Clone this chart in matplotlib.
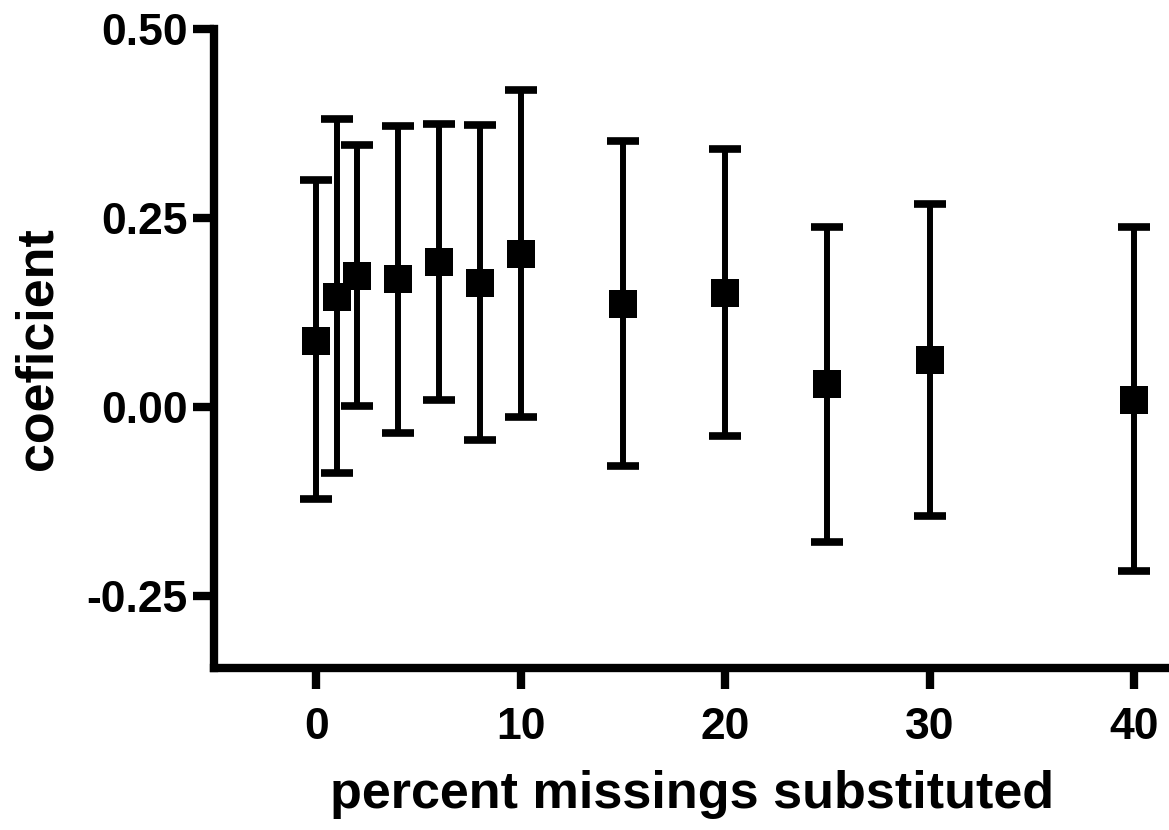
import numpy as np
import matplotlib
matplotlib.use('Agg')
import matplotlib.pyplot as plt

# percent of missings substituted vs coefficient (mean with CI)
percent = [0, 1, 2, 4, 6, 8, 10, 15, 20, 25, 30, 40]
coef = [0.088, 0.146, 0.173, 0.169, 0.192, 0.164, 0.202, 0.137, 0.151, 0.030, 0.062, 0.010]
lower = [-0.122, -0.087, 0.001, -0.034, 0.009, -0.044, -0.013, -0.078, -0.038, -0.178, -0.144, -0.217]
upper = [0.300, 0.381, 0.346, 0.372, 0.375, 0.373, 0.419, 0.352, 0.341, 0.238, 0.269, 0.238]

xticks = [0, 10, 20, 30, 40]
yticks = [-0.25, 0.00, 0.25, 0.50]

plt.rcParams['font.family'] = ['Liberation Sans', 'DejaVu Sans']
plt.rcParams['font.weight'] = 'bold'

W, H = 1169, 830
fig = plt.figure(figsize=(W / 100, H / 100), dpi=100)
ax = fig.add_axes([214 / W, (H - 668) / H, (W - 214) / W, (668 - 29) / H])

coef = np.array(coef)
yerr = [coef - np.array(lower), np.array(upper) - coef]
ax.errorbar(percent, coef, yerr=yerr, fmt='none', ecolor='black',
            elinewidth=4.3, capsize=11.5, capthick=5.5, zorder=3, clip_on=False)
ax.plot(percent, coef, 's', color='black', ms=19.5, mew=0, zorder=4, clip_on=False)

ax.set_xlim(-5, 41.7)
ax.set_ylim(-0.345, 0.50)
ax.set_xticks(xticks)
ax.set_yticks(yticks)
ax.set_yticklabels([f'{v:.2f}' for v in yticks])

for side in ['top', 'right']:
    ax.spines[side].set_visible(False)
for side in ['left', 'bottom']:
    ax.spines[side].set_linewidth(6)
    ax.spines[side].set_capstyle('projecting')

ax.tick_params(axis='both', length=15, width=6, labelsize=32, pad=4, direction='out')
ax.tick_params(axis='x', pad=13)

ax.set_xlabel('percent missings substituted', fontsize=37.5, fontweight='bold', labelpad=16)
ax.set_ylabel('coeficient', fontsize=37.5, fontweight='bold', labelpad=17)

fig.savefig('out.png', dpi=100)
